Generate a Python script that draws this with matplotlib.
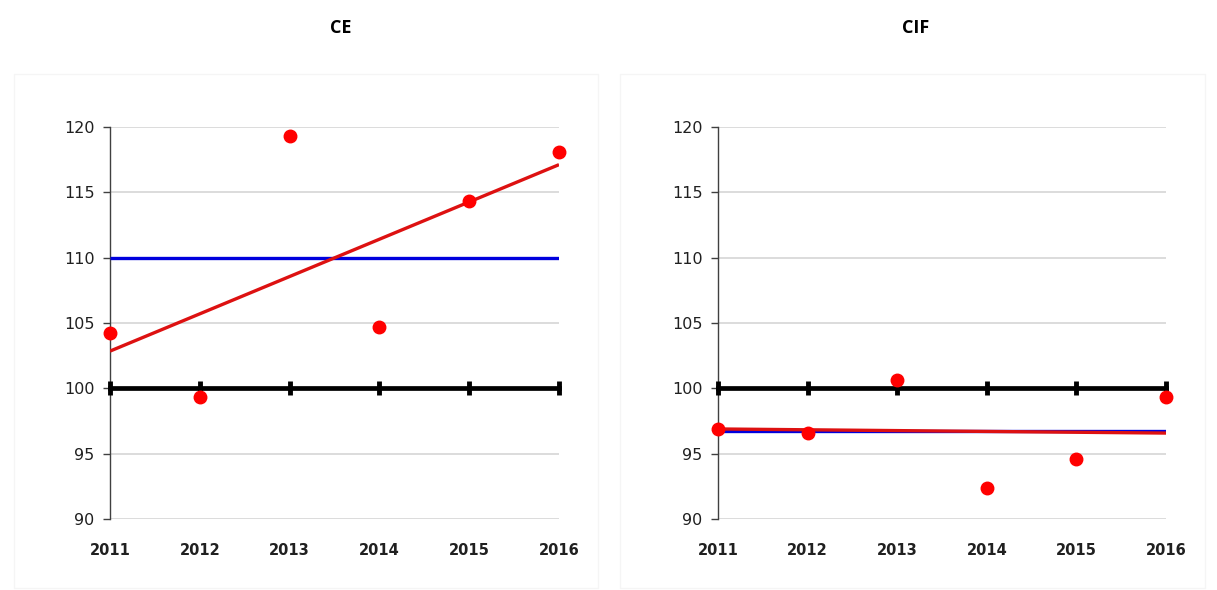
import matplotlib
matplotlib.use('agg')
import matplotlib.pyplot as plt
import numpy as np
from matplotlib.patches import Rectangle

years = [2011, 2012, 2013, 2014, 2015, 2016]
ce_vals = [104.2, 99.3, 119.3, 104.7, 114.3, 118.1]
cif_vals = [96.9, 96.6, 100.6, 92.4, 94.6, 99.3]
titles = ["CE", "CIF"]
y_ticks = [90, 95, 100, 105, 110, 115, 120]
baseline = 100

plt.rcParams['font.family'] = ['DejaVu Sans']


def plot_panel(ax, values):
    """ scatter of yearly values with mean and linear trend """
    x = np.array(years)
    y = np.array(values)

    ax.set_xlim(years[0], years[-1])
    ax.set_ylim(y_ticks[0], y_ticks[-1])

    # light grid lines
    for yv in y_ticks:
        ax.axhline(yv, color="#d9d9d9", lw=1.3, zorder=1)

    # mean line and linear trend
    ax.plot([x[0], x[-1]], [y.mean(), y.mean()], color="#0000dd", lw=2.4,
            zorder=3, solid_capstyle="butt")
    slope, icpt = np.polyfit(x, y, 1)
    ax.plot([x[0], x[-1]], [slope * x[0] + icpt, slope * x[-1] + icpt],
            color="#dd1111", lw=2.4, zorder=4, solid_capstyle="butt")

    # horizontal axis drawn at 100 with tick marks
    ax.plot(x, [baseline] * len(x), color="black", lw=3.4, marker="|",
            markersize=10, markeredgewidth=3.5, zorder=5, clip_on=False)

    # data points
    ax.plot(x, y, "o", color="#ff0000", markersize=9, zorder=6,
            clip_on=False)

    for side in ["top", "right", "bottom"]:
        ax.spines[side].set_visible(False)
    ax.spines["left"].set_color("#404040")
    ax.spines["left"].set_linewidth(1.0)

    ax.set_yticks(y_ticks)
    ax.set_xticks(years)
    ax.set_xticklabels([str(v) for v in years], fontweight="bold",
                       fontsize=10.5, color="#202020")
    ax.set_yticklabels([str(v) for v in y_ticks], fontsize=11.5,
                       color="#202020")
    ax.tick_params(axis="x", length=0, pad=17)
    ax.tick_params(axis="y", length=5, width=1, color="#404040", pad=6)
    ax.patch.set_visible(False)


fig = plt.figure(figsize=(12.17, 5.90), dpi=100)
W, H = 1217.0, 590.0

# faint chart borders
for x0, x1 in [(14, 598), (620, 1205)]:
    fig.patches.append(Rectangle((x0 / W, 2 / H), (x1 - x0) / W, (516 - 2) / H,
                                 transform=fig.transFigure, fill=False,
                                 edgecolor="#f5f5f5", lw=1))

ax1 = fig.add_axes([110 / W, 71 / H, 449 / W, 392 / H])
ax2 = fig.add_axes([718 / W, 71 / H, 448 / W, 392 / H])

plot_panel(ax1, ce_vals)
plot_panel(ax2, cif_vals)

fig.text(341 / W, 1 - 28 / H, titles[0], ha="center", va="center",
         fontsize=13, fontweight="bold", family="Open Sans")
fig.text(916 / W, 1 - 28 / H, titles[1], ha="center", va="center",
         fontsize=13, fontweight="bold", family="Open Sans")

plt.savefig("out.png", dpi=100)
